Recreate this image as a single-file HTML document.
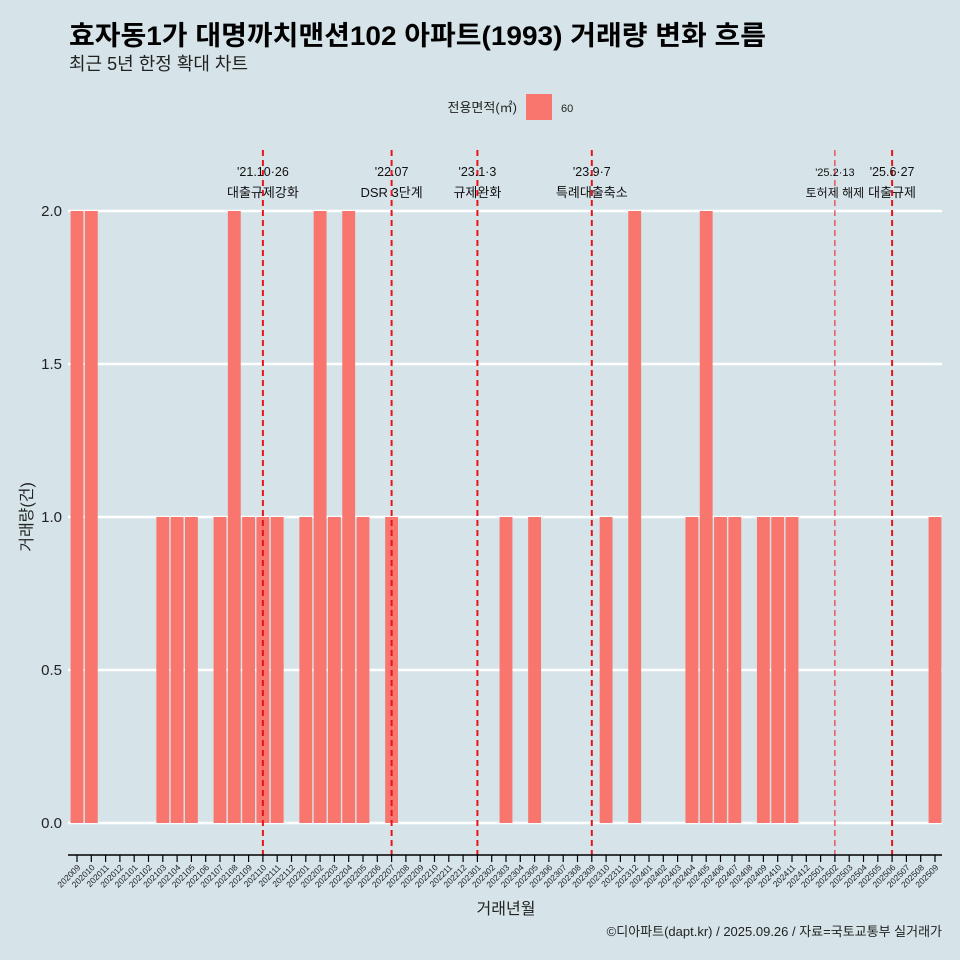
<!DOCTYPE html>
<html><head><meta charset="utf-8"><style>
html,body{margin:0;background:#d6e4ea;overflow:hidden;width:960px;height:960px;}
svg{display:block;}
svg text{font-family:"Liberation Sans","Noto Sans CJK KR",sans-serif;}
</style></head><body>
<svg width="960" height="960" viewBox="0 0 960 960">
<rect width="960" height="960" fill="#d6e4ea"/>
<text x="69" y="45" font-size="27" font-weight="bold" fill="#000" textLength="697" lengthAdjust="spacingAndGlyphs">효자동1가 대명까치맨션102 아파트(1993) 거래량 변화 흐름</text>
<text x="69" y="70" font-size="18" fill="#222">최근 5년 한정 확대 차트</text>
<g>
<text x="517" y="112" font-size="13" text-anchor="end" fill="#222">전용면적(㎡)</text>
<rect x="526" y="94" width="26" height="26" fill="#f8766d"/>
<text x="561" y="112" font-size="11" fill="#222">60</text>
</g>
<g id="grid"></g><g id="bars"></g><g id="events"></g><g id="axes"></g>
<text x="32" y="517" font-size="16" text-anchor="middle" transform="rotate(-90 32 517)" fill="#222">거래량(건)</text>
<text x="506" y="914" font-size="16" text-anchor="middle" fill="#222">거래년월</text>
<text x="942" y="936" font-size="13" text-anchor="end" fill="#222">©디아파트(dapt.kr) / 2025.09.26 / 자료=국토교통부 실거래가</text>
</svg>
<script>
const categories=[];
for(let y=2020;y<=2025;y++)for(let m=1;m<=12;m++){const k=y*100+m;if(k>=202009&&k<=202509)categories.push(String(k));}
const values=[2,2,0,0,0,0,1,1,1,0,1,2,1,1,1,0,1,2,1,2,1,0,1,0,0,0,0,0,0,0,1,0,1,0,0,0,0,1,0,2,0,0,0,1,2,1,1,0,1,1,1,0,0,0,0,0,0,0,0,0,1];
const yTicks=[0,0.5,1,1.5,2];
const yTickLabels=["0.0","0.5","1.0","1.5","2.0"];
const eventMonths=["202110","202207","202301","202309","202502","202506"];
const eventLine1=["'21.10·26","'22.07","'23.1·3","'23.9·7","'25.2·13","'25.6·27"];
const eventLine2=["대출규제강화","DSR 3단계","규제완화","특례대출축소","토허제 해제","대출규제"];
const NS="http://www.w3.org/2000/svg";
const x0=77,step=(935-77)/60,bw=step*0.9;
const xs=i=>x0+i*step;
const ys=v=>823-v*(823-211)/2;
function mk(t,a,p){const e=document.createElementNS(NS,t);for(const k in a)e.setAttribute(k,a[k]);p.appendChild(e);return e;}
const grid=document.getElementById('grid'),bars=document.getElementById('bars'),ev=document.getElementById('events'),ax=document.getElementById('axes');
yTicks.forEach((v,i)=>{
 const l=mk('line',{x1:68,x2:942,y1:ys(v),y2:ys(v),stroke:'#fff','stroke-width':2.5},grid);
 
 
 const t=mk('text',{x:62,y:ys(v)+5,'font-size':15,'text-anchor':'end',fill:'#222'},ax);
 t.textContent=yTickLabels[i];
 
 
});
values.forEach((v,i)=>{
 if(v<=0)return;
 const r=mk('rect',{x:xs(i)-bw/2,y:ys(v),width:bw,height:ys(0)-ys(v),fill:'#f8766d'},bars);
 
 
});
const al=mk('line',{x1:68,x2:942,y1:855,y2:855,stroke:'#000','stroke-width':1.5},ax);


categories.forEach((c,i)=>{
 const tk=mk('line',{x1:xs(i),x2:xs(i),y1:855,y2:862,stroke:'#000','stroke-width':1.2},ax);
 
 
 const t=mk('text',{x:xs(i)+4,y:868,'font-size':8.5,'text-anchor':'end',fill:'#222',transform:`rotate(-45 ${xs(i)+4} 868)`},ax);
 t.textContent=c;
 
 
});
eventMonths.forEach((m,i)=>{
 const idx=categories.indexOf(m),x=xs(idx);
 const thin=m==="202502";
 const l=mk('line',{x1:x,x2:x,y1:150,y2:855,stroke:'#e8141b','stroke-width':thin?1:2,'stroke-dasharray':'6,4'},ev);
 
 
 const t1=mk('text',{x:x,y:176,'font-size':thin?11:12.5,'text-anchor':'middle',fill:'#111'},ev);
 t1.textContent=eventLine1[i];
 
 
 const t2=mk('text',{x:x,y:197,'font-size':thin?12:13,'text-anchor':'middle',fill:'#111'},ev);
 t2.textContent=eventLine2[i];
 
 
});
</script>
</body></html>
